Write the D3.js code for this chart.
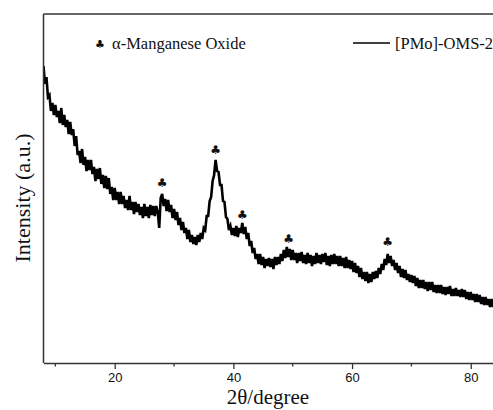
<!DOCTYPE html>
<html>
<head>
<meta charset="utf-8">
<script src="https://cdn.jsdelivr.net/npm/d3@7"></script>
<style>
  body { margin: 0; background: #fff; }
  text { fill: #111; }
</style>
</head>
<body>
<div id="chart"></div>
<script>
var width = 493,
    height = 410;

// XRD pattern, sampled every 0.25 degree from 8 to 84 (2theta), intensity in a.u.
var angleStart = 8, angleStep = 0.25;
var intensity = [
  297, 279, 286, 266, 268, 252, 260, 248,
  258, 246, 252, 240, 255, 238, 248, 236,
  243, 229, 241, 228, 234, 217, 227, 208,
  212, 200, 214, 198, 206, 192, 203, 193,
  203, 189, 196, 182, 194, 184, 195, 179,
  188, 175, 187, 174, 185, 169, 176, 163,
  175, 163, 171, 159, 171, 159, 167, 155,
  163, 153, 167, 153, 161, 149, 161, 151,
  159, 148, 156, 145, 159, 147, 156, 145,
  158, 148, 157, 147, 157, 151, 135, 165,
  169, 157, 164, 152, 163, 151, 158, 145,
  154, 143, 151, 138, 145, 133, 141, 130,
  135, 124, 133, 121, 128, 119, 126, 118,
  128, 121, 130, 124, 135, 133, 147, 147,
  162, 166, 182, 188, 203, 192, 191, 178,
  178, 162, 161, 146, 144, 133, 137, 128,
  135, 127, 137, 126, 135, 130, 140, 129,
  136, 124, 130, 117, 122, 110, 115, 104,
  109, 99, 109, 98, 106, 95, 104, 97,
  105, 96, 104, 94, 106, 98, 106, 99,
  109, 102, 113, 105, 116, 106, 114, 103,
  113, 103, 110, 100, 110, 102, 111, 100,
  108, 99, 110, 100, 108, 97, 107, 99,
  110, 100, 108, 99, 109, 101, 110, 98,
  107, 97, 108, 99, 109, 99, 107, 97,
  107, 97, 105, 95, 106, 95, 103, 94,
  102, 91, 100, 90, 97, 86, 95, 84,
  91, 82, 91, 80, 89, 81, 91, 84,
  92, 85, 95, 89, 99, 93, 104, 98,
  109, 100, 107, 97, 103, 93, 100, 90,
  97, 86, 94, 85, 93, 83, 89, 81,
  88, 80, 87, 77, 85, 75, 83, 75,
  83, 74, 81, 72, 81, 73, 81, 71,
  78, 70, 78, 70, 78, 69, 76, 68,
  76, 69, 77, 67, 74, 67, 75, 67,
  73, 66, 74, 66, 73, 64, 71, 63,
  71, 63, 69, 61, 69, 61, 68, 59,
  66, 58, 66, 58, 64, 56, 64, 56,
  62
];

// alpha-MnO2 reflections marked with a club
var peakAngles = [28, 37, 41.5, 49.3, 66];
var peakTops = [170, 203, 138, 114, 111];

var xTicks = [20, 40, 60, 80];
var xMinorTicks = [10, 30, 50, 70];

var legendLabels = ["\u03b1-Manganese Oxide", "[PMo]-OMS-2"];

var plotLeft = 43.5, plotTop = 14, plotBottom = 363;

var x = d3.scaleLinear()
    .domain([8, 85])
    .range([plotLeft, plotLeft + 77 * 5.934]);

var y = d3.scaleLinear()
    .domain([0, 349])
    .range([plotBottom, plotTop]);

var svg = d3.select("#chart").append("svg")
    .attr("width", width)
    .attr("height", height);

svg.append("defs").append("clipPath")
    .attr("id", "plotClip")
  .append("rect")
    .attr("x", plotLeft)
    .attr("y", plotTop)
    .attr("width", width - plotLeft)
    .attr("height", plotBottom - plotTop);

var points = intensity.map(function(v, i) {
  return [angleStart + i * angleStep, v];
});

var line = d3.line()
    .x(function(d) { return x(d[0]); })
    .y(function(d) { return y(d[1]); });

svg.append("path")
    .datum(points)
    .attr("clip-path", "url(#plotClip)")
    .attr("d", line)
    .attr("fill", "none")
    .attr("stroke", "#000")
    .attr("stroke-width", 2.6)
    .attr("stroke-linejoin", "miter");

// peak markers
svg.selectAll(".peak")
    .data(peakAngles)
  .enter().append("text")
    .attr("class", "peak")
    .attr("x", function(d) { return x(d); })
    .attr("y", function(d, i) { return y(peakTops[i]) - 6; })
    .attr("text-anchor", "middle")
    .style("font-family", "DejaVu Sans")
    .style("font-size", "12px")
    .text("\u2663");

// frame
var frame = svg.append("g")
    .attr("stroke", "#333")
    .attr("stroke-width", 1.5)
    .attr("fill", "none");
frame.append("line")
    .attr("x1", plotLeft).attr("x2", plotLeft)
    .attr("y1", plotTop).attr("y2", plotBottom);
frame.append("line")
    .attr("x1", plotLeft).attr("x2", width)
    .attr("y1", plotTop).attr("y2", plotTop);

// bottom axis
var xAxis = d3.axisBottom(x)
    .tickValues(xTicks)
    .tickSize(6)
    .tickSizeOuter(0)
    .tickPadding(4);

var gx = svg.append("g")
    .attr("transform", "translate(0," + plotBottom + ")")
    .call(xAxis);
gx.select(".domain")
    .attr("stroke", "#333")
    .attr("stroke-width", 1.5);
gx.selectAll(".tick line")
    .attr("stroke", "#333")
    .attr("stroke-width", 1.3);
gx.selectAll(".tick text")
    .style("font-family", "Liberation Sans, Arial, sans-serif")
    .style("font-size", "13px")
    .attr("fill", "#222");

svg.append("g").selectAll("line")
    .data(xMinorTicks)
  .enter().append("line")
    .attr("x1", function(d) { return x(d); })
    .attr("x2", function(d) { return x(d); })
    .attr("y1", plotBottom)
    .attr("y2", plotBottom + 3.5)
    .attr("stroke", "#333")
    .attr("stroke-width", 1.3);

// axis titles
svg.append("text")
    .attr("x", 268)
    .attr("y", 404)
    .attr("text-anchor", "middle")
    .style("font-family", "Liberation Serif, Times New Roman, serif")
    .style("font-size", "21px")
    .text("2\u03b8/degree");

svg.append("text")
    .attr("transform", "translate(30,198)rotate(-90)")
    .attr("text-anchor", "middle")
    .style("font-family", "Liberation Serif, Times New Roman, serif")
    .style("font-size", "22px")
    .text("Intensity (a.u.)");

// legend
var legend = svg.append("g")
    .style("font-family", "Liberation Serif, Times New Roman, serif")
    .style("font-size", "16.5px");

legend.append("text")
    .attr("x", 100)
    .attr("y", 48)
    .attr("text-anchor", "middle")
    .style("font-family", "DejaVu Sans")
    .style("font-size", "11px")
    .text("\u2663");
legend.append("text")
    .attr("x", 112)
    .attr("y", 49)
    .text(legendLabels[0]);

legend.append("line")
    .attr("x1", 353).attr("x2", 390)
    .attr("y1", 43).attr("y2", 43)
    .attr("stroke", "#000")
    .attr("stroke-width", 1.5);
legend.append("text")
    .attr("x", 395)
    .attr("y", 49)
    .text(legendLabels[1]);
</script>
</body>
</html>
